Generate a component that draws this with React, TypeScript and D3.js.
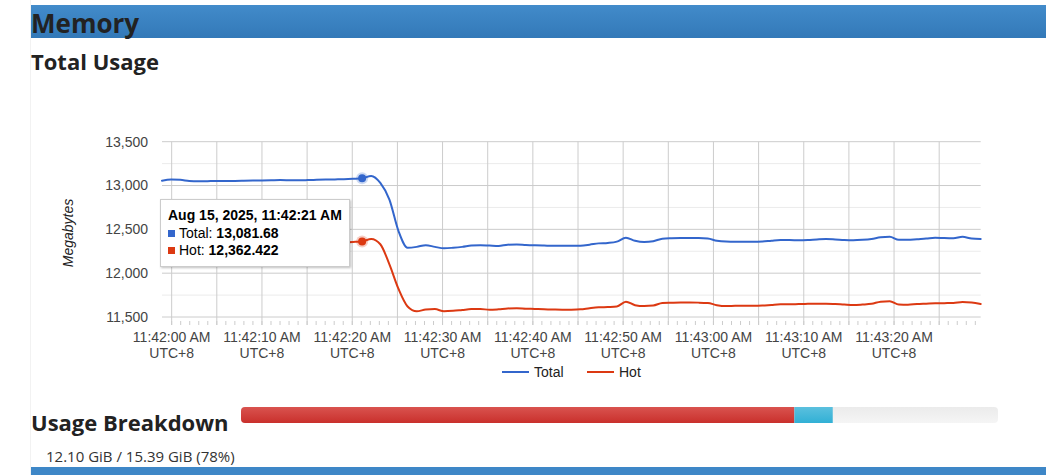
import React from 'react'
import * as d3 from 'd3'

// seconds relative to 11:42:00, one sample roughly every second
const sampleStart = -1.07
const sampleStep = 1.0074

const totalMb = [
  13055, 13068, 13065, 13052, 13048, 13050, 13052, 13052, 13053, 13054,
  13056, 13058, 13060, 13062, 13061, 13060, 13062, 13065, 13068, 13070,
  13072, 13076, 13081.68, 13110, 13030, 12840, 12480, 12290, 12300, 12320,
  12300, 12284, 12290, 12300, 12315, 12320, 12315, 12310, 12325, 12328,
  12322, 12318, 12315, 12312, 12312, 12312, 12314, 12325, 12340, 12345,
  12360, 12405, 12370, 12356, 12365, 12393, 12398, 12400, 12400, 12400,
  12395, 12370, 12360, 12358, 12358, 12358, 12360, 12370, 12378, 12378,
  12375, 12378, 12385, 12390, 12385, 12378, 12375, 12380, 12390, 12410,
  12415, 12380, 12380, 12388, 12395, 12405, 12400, 12398, 12415, 12395, 12390,
]

const hotMb = [
  12335, 12348, 12345, 12332, 12328, 12330, 12332, 12332, 12333, 12334,
  12336, 12338, 12340, 12342, 12341, 12340, 12342, 12345, 12348, 12350,
  12352, 12356, 12362.422, 12390, 12330, 12100, 11820, 11620, 11565, 11585,
  11590, 11565, 11570, 11580, 11590, 11592, 11582, 11588, 11598, 11600,
  11595, 11592, 11588, 11585, 11583, 11584, 11588, 11600, 11610, 11614,
  11620, 11675, 11635, 11625, 11630, 11660, 11663, 11665, 11665, 11664,
  11660, 11635, 11625, 11627, 11628, 11628, 11630, 11638, 11645, 11645,
  11648, 11650, 11652, 11652, 11648, 11642, 11637, 11642, 11650, 11675,
  11680, 11642, 11640, 11648, 11652, 11656, 11658, 11660, 11672, 11665, 11648,
]

const seriesNames = ['Total', 'Hot']
const seriesColors = ['#3366cc', '#dc3912']

const xTickLabels = [
  '11:42:00 AM', '11:42:10 AM', '11:42:20 AM', '11:42:30 AM', '11:42:40 AM',
  '11:42:50 AM', '11:43:00 AM', '11:43:10 AM', '11:43:20 AM',
]
const yTicks = [11500, 12000, 12500, 13000, 13500]

const tooltipIndex = 22
const tooltipTitle = 'Aug 15, 2025, 11:42:21 AM'
const tooltipValues = ['13,081.68', '12,362.422']

// usage breakdown (GiB)
const usedGiB = 12.1
const totalGiB = 15.39
const breakdownValues = [11.25, 0.78]
const breakdownColors = [['#d9534f', '#c9302c'], ['#5bc0de', '#31b0d5']]

const chartFont = 'Arial, "Liberation Sans", sans-serif'
const headFont = '"Open Sans", "Noto Sans", sans-serif'

const App = () => {
  const times = totalMb.map((_, i) => sampleStart + i * sampleStep)

  const x = d3.scaleLinear()
    .domain([times[0], times[times.length - 1]])
    .range([162, 980.7])

  const y = d3.scaleLinear()
    .domain([11500, 13500])
    .range([317, 141.7])

  const line = d3.line<number>()
    .x((_, i) => x(times[i]))
    .y((d) => y(d))
    .curve(d3.curveMonotoneX)

  const minorY = d3.range(11750, 13500, 500)
  const gridX = d3.range(0, 90, 5)
  const tickX = d3.range(0, 90, 1)

  const barX = d3.scaleLinear().domain([0, totalGiB]).range([241, 998])
  let acc = 0
  const segs = breakdownValues.map((v, i) => {
    const s = { x0: barX(acc), x1: barX(acc + v), c1: breakdownColors[i][0], c2: breakdownColors[i][1] }
    acc += v
    return s
  })

  const tx = x(times[tooltipIndex])

  return (
    <div style={{ position: 'absolute', left: 0, top: 0 }}>
      <svg width={1046} height={475} style={{ display: 'block' }}>
        <defs>
          <linearGradient id="hdr" x1="0" y1="0" x2="0" y2="1">
            <stop offset="0" stopColor="#428bca" />
            <stop offset="1" stopColor="#3379b8" />
          </linearGradient>
          <linearGradient id="track" x1="0" y1="0" x2="0" y2="1">
            <stop offset="0" stopColor="#ebebeb" />
            <stop offset="1" stopColor="#f5f5f5" />
          </linearGradient>
          {segs.map((s, i) => (
            <linearGradient key={i} id={'seg' + i} x1="0" y1="0" x2="0" y2="1">
              <stop offset="0" stopColor={s.c1} />
              <stop offset="1" stopColor={s.c2} />
            </linearGradient>
          ))}
          <clipPath id="barclip">
            <rect x={241} y={407} width={757} height={16} rx={4} />
          </clipPath>
          <filter id="shadow" x="-10%" y="-10%" width="130%" height="140%">
            <feDropShadow dx="1" dy="1" stdDeviation="1" floodColor="#000" floodOpacity="0.25" />
          </filter>
        </defs>

        <rect x={0} y={0} width={1046} height={475} fill="#fff" />
        <line x1={30.5} x2={30.5} y1={0} y2={475} stroke="#f2f2f2" />

        {/* header */}
        <rect x={31} y={5} width={1015} height={33} fill="url(#hdr)" />
        <text x={31} y={33} fontFamily={headFont} fontWeight="bold" fontSize={26} fill="#222">Memory</text>
        <text x={31} y={70} fontFamily={headFont} fontWeight="bold" fontSize={22} fill="#222">Total Usage</text>

        {/* grid */}
        {minorY.map((v) => (
          <line key={'m' + v} x1={162} x2={980.7} y1={y(v)} y2={y(v)} stroke="#ebebeb" />
        ))}
        {yTicks.map((v) => (
          <line key={'g' + v} x1={162} x2={980.7} y1={y(v)} y2={y(v)} stroke="#cccccc" />
        ))}
        {gridX.map((s) => (
          <line key={'v' + s} x1={x(s)} x2={x(s)} y1={y(13500)} y2={325} stroke="#cccccc" />
        ))}
        {tickX.map((s) => (
          <line key={'t' + s} x1={x(s)} x2={x(s)} y1={321} y2={325} stroke="#cccccc" />
        ))}

        {/* y axis */}
        {yTicks.map((v) => (
          <text key={'yl' + v} x={148} y={y(v)} dy="0.35em" textAnchor="end"
            fontFamily={chartFont} fontSize={14} fill="#444">{d3.format(',')(v)}</text>
        ))}
        <text transform="translate(73,233) rotate(-90)" textAnchor="middle" fontFamily={chartFont}
          fontSize={14} fontStyle="italic" fill="#222">Megabytes</text>

        {/* x axis */}
        {xTickLabels.map((l, i) => (
          <g key={l} fontFamily={chartFont} fontSize={14} fill="#444" textAnchor="middle">
            <text x={x(i * 10)} y={342}>{l}</text>
            <text x={x(i * 10)} y={358}>UTC+8</text>
          </g>
        ))}

        {/* lines */}
        {[totalMb, hotMb].map((d, i) => (
          <path key={i} d={line(d) || ''} fill="none" stroke={seriesColors[i]} strokeWidth={2}
            strokeLinejoin="round" strokeLinecap="round" />
        ))}

        {/* focused points */}
        {[totalMb, hotMb].map((d, i) => (
          <g key={'p' + i}>
            <circle cx={tx} cy={y(d[tooltipIndex])} r={6} fill={seriesColors[i]} opacity={0.25} />
            <circle cx={tx} cy={y(d[tooltipIndex])} r={4} fill={seriesColors[i]} />
          </g>
        ))}

        {/* legend */}
        {seriesNames.map((n, i) => {
          const lx = i === 0 ? 502 : 587
          return (
            <g key={n}>
              <line x1={lx} x2={lx + 27} y1={372} y2={372} stroke={seriesColors[i]} strokeWidth={2} />
              <text x={lx + 32} y={377} fontFamily={chartFont} fontSize={14} fill="#222">{n}</text>
            </g>
          )
        })}

        {/* tooltip */}
        <g fontFamily={chartFont} fontSize={14} fill="#000">
          <rect x={160.5} y={199.5} width={189} height={67} fill="#fff" stroke="#cccccc" filter="url(#shadow)" />
          <text x={168} y={220} fontWeight="bold">{tooltipTitle}</text>
          {seriesNames.map((n, i) => (
            <g key={'tt' + n}>
              <rect x={168} y={230 + i * 17} width={7} height={7} fill={seriesColors[i]} />
              <text x={179} y={238 + i * 17}>
                {n}: <tspan fontWeight="bold">{tooltipValues[i]}</tspan>
              </text>
            </g>
          ))}
        </g>

        {/* usage breakdown */}
        <text x={31} y={431} fontFamily={headFont} fontWeight="bold" fontSize={22} fill="#222">Usage Breakdown</text>
        <g clipPath="url(#barclip)">
          <rect x={241} y={407} width={757} height={16} fill="url(#track)" />
          {segs.map((s, i) => (
            <rect key={i} x={s.x0} y={407} width={s.x1 - s.x0} height={16} fill={`url(#seg${i})`} />
          ))}
        </g>
        <text x={46} y={462} fontFamily={headFont} fontSize={15} fill="#333">
          {`${usedGiB.toFixed(2)} GiB / ${totalGiB.toFixed(2)} GiB (${Math.floor((usedGiB / totalGiB) * 100)}%)`}
        </text>

        <rect x={31} y={467} width={1015} height={8} fill="#3e87c7" />
      </svg>
    </div>
  )
}

export default App
